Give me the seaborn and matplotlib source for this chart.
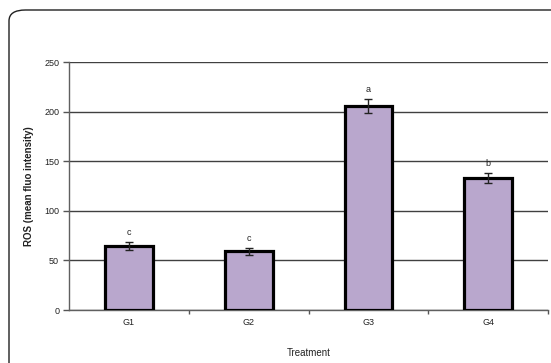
import matplotlib
matplotlib.use("Agg")
import matplotlib.pyplot as plt
from matplotlib.patches import FancyBboxPatch
import seaborn as sns
import pandas as pd

# Treatment groups and ROS measurements
groups = ["G1", "G2", "G3", "G4"]
ros_mean = [65, 59, 206, 133]
ros_err = [4, 4, 7, 5]
sig_letters = ["c", "c", "a", "b"]
y_ticks = [0, 50, 100, 150, 200, 250]

sns.set_theme(style="white")
plt.rcParams["font.family"] = ["Liberation Sans", "DejaVu Sans"]

df = pd.DataFrame({"Treatment": groups, "ROS": ros_mean})

fig = plt.figure(figsize=(5.51, 3.63), dpi=100)
ax = fig.add_axes([0.125, 0.146, 0.870, 0.683])

# rounded frame around the chart area
frame = FancyBboxPatch((9 / 551, -0.05), 1.2, 1.0 - 10 / 363 + 0.05,
                       boxstyle="round,pad=0,rounding_size=0.03",
                       transform=fig.transFigure, fill=False,
                       edgecolor="#202020", linewidth=1.0, zorder=0)
fig.patches.append(frame)

sns.barplot(data=df, x="Treatment", y="ROS", ax=ax, color="#B9A7CD",
            saturation=1, width=0.4, edgecolor="black", linewidth=2.3,
            errorbar=None, zorder=3)

ax.errorbar(range(len(groups)), ros_mean, yerr=ros_err, fmt="none",
            ecolor="#222222", elinewidth=1.0, capsize=3, capthick=1.0, zorder=4)

for i, (m, e, s) in enumerate(zip(ros_mean, ros_err, sig_letters)):
    ax.text(i, m + e + 5, s, ha="center", va="bottom", fontsize=6.5,
            color="#222222")

ax.set_ylim(0, 250)
ax.set_xlim(-0.5, 3.5)
ax.set_yticks(y_ticks)
ax.yaxis.grid(True, color="#404040", linewidth=1.0)
ax.set_axisbelow(True)

# ticks between categories on the x axis
ax.set_xticks([0.5, 1.5, 2.5, 3.5], minor=True)
ax.tick_params(axis="x", which="major", length=0, labelsize=6.5, pad=6,
               colors="#222222")
ax.tick_params(axis="x", which="minor", length=3, width=1, color="#555555",
               direction="out", bottom=True)
ax.tick_params(axis="y", length=4, width=1, color="#555555", direction="out",
               left=True, labelsize=6.5, pad=3, labelcolor="#222222")

for side in ["top", "right"]:
    ax.spines[side].set_visible(False)
for side in ["left", "bottom"]:
    ax.spines[side].set_color("#606060")
    ax.spines[side].set_linewidth(1.0)

ax.set_xlabel("Treatment", fontsize=7, labelpad=15, color="#222222")
ax.set_ylabel("ROS (mean fluo intensity)", fontsize=7, fontweight="bold",
              labelpad=7, color="#222222")

fig.savefig("out.png", dpi=100)
